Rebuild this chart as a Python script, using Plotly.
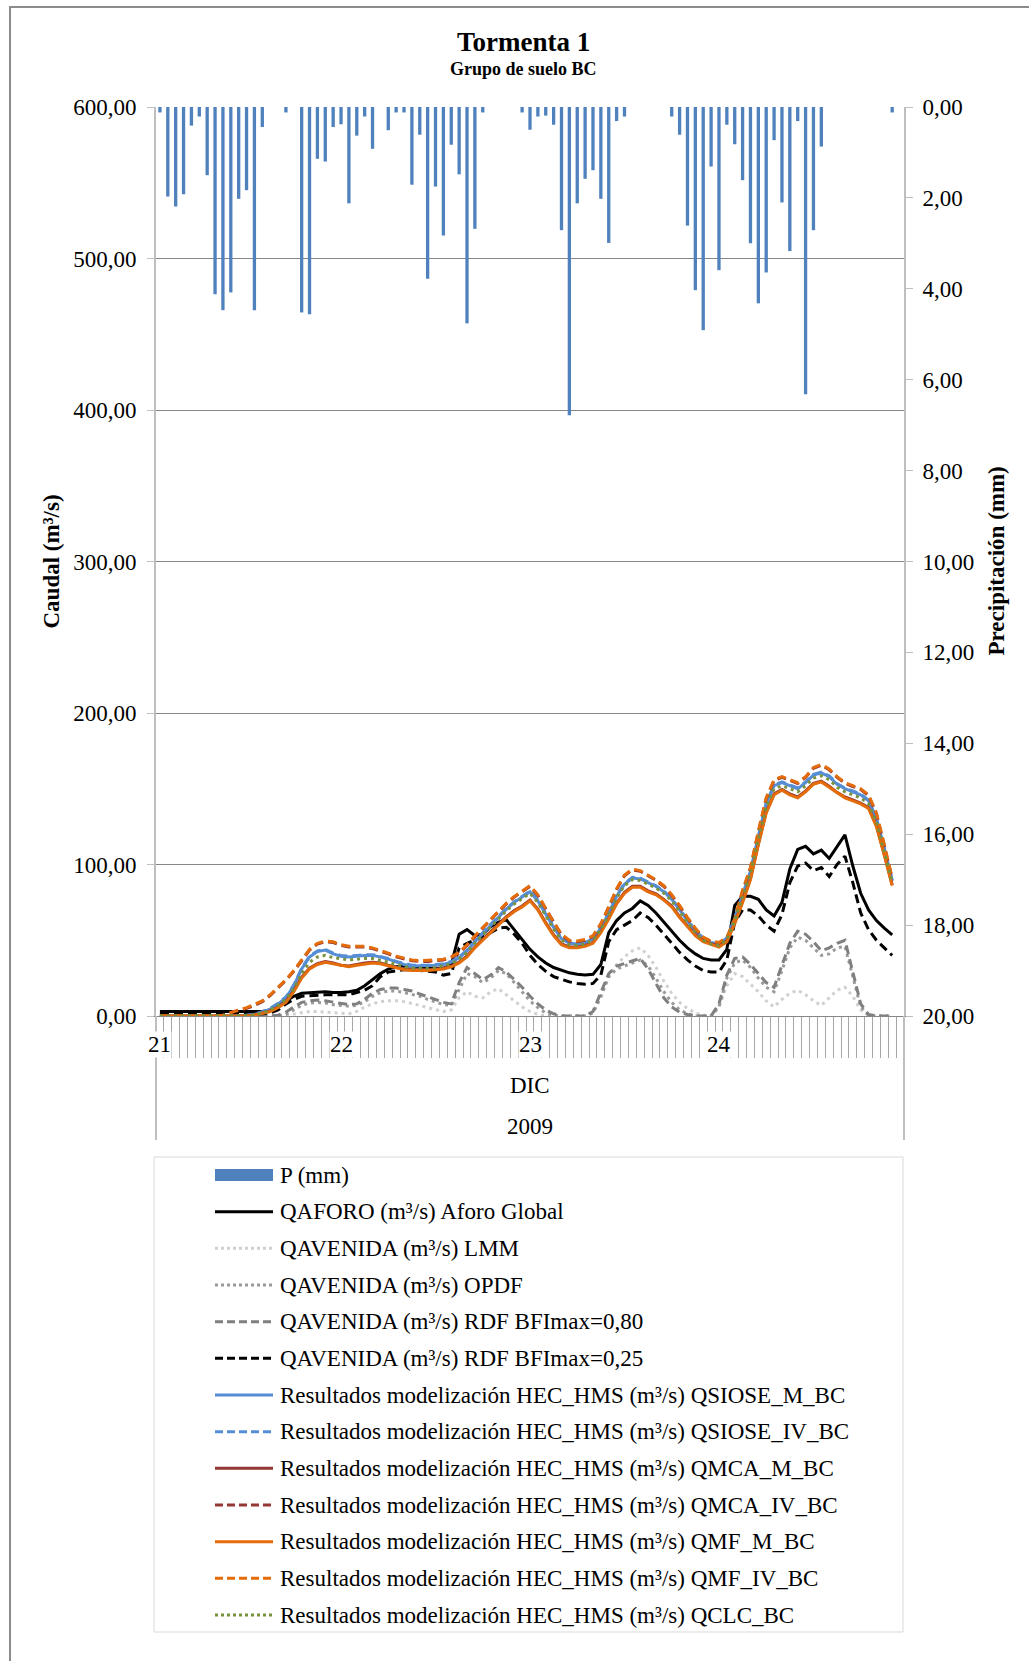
import plotly.graph_objects as go

# ---------------------------------------------------------------------------
# datos (horario: 21-dic 01:00 ... 24-dic 23:00)
# ---------------------------------------------------------------------------
cat_day = [21] * 23 + [22] * 24 + [23] * 24 + [24] * 24
month_label = "DIC"
year_label = "2009"

p_mm = [0.12, 1.97, 2.19, 1.92, 0.41, 0.21, 1.50, 4.12, 4.47, 4.08,
        2.02, 1.83, 4.47, 0.44, 0, 0, 0.12, 0, 4.52, 4.56,
        1.14, 1.20, 0.44, 0.38, 2.12, 0.63, 0.21, 0.92, 0, 0.51,
        0.12, 0.12, 1.71, 0.61, 3.78, 1.75, 2.83, 0.83, 1.48, 4.76,
        2.68, 0.12, 0, 0, 0, 0, 0.12, 0.50, 0.21, 0.19,
        0.39, 2.71, 6.78, 2.12, 1.58, 1.39, 2.02, 2.99, 0.31, 0.21,
        0, 0, 0, 0, 0, 0.21, 0.61, 2.61, 4.03, 4.91,
        1.31, 3.59, 0.39, 0.82, 1.61, 3.00, 4.32, 3.64, 0.73, 2.10,
        3.17, 0.31, 6.32, 2.71, 0.87, 0, 0, 0, 0, 0,
        0, 0, 0, 0.12, 0]

q_aforo = [3, 3, 3, 3, 3, 3, 3, 3, 3, 3,
           3, 3, 3, 3, 4, 6, 10, 13, 15, 15.5,
           16, 16, 15.5, 15.5, 16, 17, 20, 24, 28, 31,
           32.5, 33, 33, 32.5, 32, 31.5, 31.5, 34, 54, 57,
           53, 54, 59, 62, 63.5, 57, 50, 44, 39, 35,
           32, 30, 28.5, 27.5, 27, 27.5, 34, 55, 63, 68,
           71, 76, 73, 68, 62, 56, 50, 45, 41, 38,
           37, 37, 44, 73, 79, 79, 77, 70, 66, 75,
           97, 110, 112, 107, 109.5, 104, 112, 119.5, 99, 81,
           70, 63, 58, 53.5]

q_lmm = [0, 0, 0, 0, 0, 0, 0, 0, 0, 0,
         0, 0, 0, 0, 0, 0, 0.5, 1.5, 2.5, 3,
         3, 2.5, 2, 1.5, 1.5, 3, 6, 8, 9.5, 10,
         10, 9.5, 8.5, 7, 5.5, 4, 3, 4, 12, 16,
         13, 12, 16, 18, 14, 10, 6, 3, 1, 0,
         0, 0, 0, 0, 0, 2, 12, 26, 34, 39,
         43, 45, 40, 32, 23, 15, 9, 5, 2, 0.5,
         0, 6, 20, 28, 26, 21, 16, 10, 6, 11,
         15, 17, 14, 10, 7, 12, 17, 19, 13, 4,
         0.5, 0, 0, 0]

q_opdf = [0, 0, 0, 0, 0, 0, 0, 0, 0, 0,
          0, 0, 0, 0, 0, 0, 1, 4, 7, 8.5,
          9, 8.5, 7.5, 7, 6.5, 7, 9.5, 13, 15.5, 16.5,
          16.5, 15.5, 14.5, 13, 11, 9, 7.5, 7, 18, 28,
          26, 22, 25, 30, 28, 22, 16, 10, 5.5, 2,
          0.5, 0, 0, 0, 0, 2, 13, 26, 31, 33,
          35, 37, 33, 25, 16, 9, 4, 1.5, 0, 0,
          0, 6, 25, 35, 37, 32, 25, 19, 16, 30,
          45, 52, 50, 45, 40, 41, 45, 46, 26, 6,
          0.5, 0, 0, 0]

q_rdf80 = [0, 0, 0, 0, 0, 0, 0, 0, 0, 0,
           0, 0, 0, 0, 0, 0.5, 2.5, 6, 9, 10,
           10.5, 10, 9, 8.5, 7.5, 8, 11, 15, 17.5, 18.5,
           18.5, 17.5, 16.5, 14.5, 12.5, 10.5, 9, 8, 22, 32,
           28, 24, 27, 32, 29, 24, 19, 13, 8, 4,
           1.5, 0, 0, 0, 0, 3, 16, 28, 33, 34.5,
           36, 38, 31, 21, 12, 6, 2.5, 1, 0, 0,
           0, 8, 27, 38, 39, 34, 28, 22, 19, 33,
           48, 56, 54, 49, 43, 45, 48, 50, 28, 8,
           1, 0, 0, 0]

q_rdf25 = [1.5, 1.5, 1.5, 1.5, 1.5, 1.5, 1.5, 1.5, 1.5, 1.5,
           1.5, 1.5, 1.5, 1.5, 2, 4, 8, 11, 13, 13.5,
           14, 14, 14, 14, 14, 15.5, 17, 20, 26, 29,
           30, 30.5, 30.5, 30, 29.5, 29, 27, 28, 45, 48,
           50, 52, 55, 58, 58.5, 54, 48, 40, 34, 29.5,
           26, 24, 22.5, 21.5, 21, 21.5, 27, 49, 57, 60,
           63, 68, 65, 60, 54, 48, 42, 37, 33, 30,
           29, 29, 37, 62, 70, 70, 66, 60, 56, 67,
           88, 99, 101, 96, 98, 92, 100, 105.5, 88, 68,
           57, 50, 45, 40]

q_siose_m = [0, 0, 0, 0, 0, 0, 0, 0, 0, 0,
             0, 0.5, 1, 2.5, 4.5, 8, 12, 20, 31, 39,
             42.5, 43.5, 41, 39.5, 39, 39.5, 40, 40, 39, 37.5,
             35.5, 34, 33, 33, 33, 33.5, 34, 35.5, 38.5, 43,
             49, 54.5, 60, 65.5, 70.5, 75, 78.5, 82, 76, 67,
             58.5, 51, 48, 47.5, 48.5, 51, 58, 68, 79, 87,
             91, 90.5, 88, 85.5, 82, 77, 70, 63, 56, 51,
             48, 47, 51, 64, 79, 95, 118, 140, 152, 154,
             152, 150, 154, 159, 160.5, 158, 153, 150, 148, 146,
             142, 130, 110, 89]

q_siose_iv = [0, 0, 0, 0, 0, 0, 0, 0, 0, 0,
              0, 0.5, 1.2, 2.8, 5, 8.5, 12.5, 20.5, 31.5, 39.5,
              43, 44, 41.5, 40, 39.5, 40, 40.5, 40.5, 39.5, 38,
              36, 34.5, 33.5, 33.5, 33.5, 34, 34.5, 36, 39, 43.5,
              49.5, 55, 60.5, 66, 71, 75.5, 79, 82.5, 76.5, 67.5,
              59, 51.5, 48.5, 48, 49, 51.5, 58.5, 68.5, 79.5, 87.5,
              91.5, 91, 88.5, 86, 82.5, 77.5, 70.5, 63.5, 56.5, 51.5,
              48.5, 47.5, 51.5, 64.5, 79.5, 95.5, 118.5, 140.5, 152.5, 154.5,
              152.5, 150.5, 154.5, 159.5, 161, 158.5, 153.5, 150.5, 148.5, 146.5,
              142.5, 130.5, 110.5, 89.5]

q_mca_m = [0, 0, 0, 0, 0, 0, 0, 0, 0, 0,
           0, 0, 0.6, 1.7, 3.3, 6, 9.6, 16.7, 25.7, 31.6,
           34.6, 36, 35, 33.5, 33, 34, 35, 35.5, 35, 33.5,
           32, 31, 30.5, 30.5, 30.5, 31, 31.5, 33, 35.5, 39.6,
           45.6, 50.6, 55.6, 60.6, 65.6, 69.6, 72.6, 76.6, 70.6, 61.6,
           53.6, 47.6, 45.6, 45.6, 46.6, 48.6, 55.6, 64.6, 74.6, 81.6,
           85.6, 85.6, 82.6, 80.6, 77, 72.6, 65.6, 59.6, 53.6, 49.6,
           47.6, 46, 49.6, 61.6, 75.6, 90.6, 113.6, 134.6, 146.6, 149.6,
           146.6, 144.6, 148.6, 153.6, 155, 151.6, 147.6, 144.6, 142.6, 140.6,
           137.6, 125.6, 106.6, 86.6]

q_mca_iv = [0, 0, 0, 0, 0, 0, 0, 0, 0.4, 2.2,
            3.6, 5, 7, 9.5, 13.5, 18.5, 23.5, 29.5, 36.5, 43.5,
            47.5, 49, 48.5, 46.5, 45.5, 45.5, 45.5, 44.5, 43, 41,
            39, 37.5, 36.5, 36, 36, 36.5, 37, 38.5, 41.5, 46.5,
            52.5, 58, 63.5, 69, 74, 78.5, 82, 85.5, 79.5, 70.5,
            61.5, 53.5, 49.5, 49, 50, 52.5, 60.5, 71.5, 83.5, 92.5,
            96.5, 95.5, 92.5, 89.5, 85.5, 79.5, 72.5, 64.5, 57.5, 51.5,
            49, 48, 51.5, 63.5, 82.5, 97.5, 121.5, 143.5, 155.5, 157.5,
            155.5, 153.5, 157.5, 163.5, 165.5, 162.5, 157.5, 153.5, 151.5, 149.5,
            145.5, 133.5, 112.5, 90.5]

q_mf_m = [0, 0, 0, 0, 0, 0, 0, 0, 0, 0,
          0, 0, 0.5, 1.5, 3, 5.5, 9, 16, 25, 31,
          34, 35.5, 34.5, 33, 32.5, 33.5, 34.5, 35, 34.5, 33,
          31.5, 30.5, 30, 30, 30, 30.5, 31, 32.5, 35, 39,
          45, 50, 55, 60, 65, 69, 72, 76, 70, 61,
          53, 47, 45, 45, 46, 48, 55, 64, 74, 81,
          85, 85, 82, 80, 76.5, 72, 65, 59, 53, 49,
          47, 45.5, 49, 61, 75, 90, 113, 134, 146, 149,
          146, 144, 148, 153, 154.5, 151, 147, 144, 142, 140,
          137, 125, 106, 86]

q_mf_iv = [0, 0, 0, 0, 0, 0, 0, 0, 0.5, 2.5,
           4, 5.5, 7.5, 10, 14, 19, 24, 30, 37, 44,
           48, 49.5, 49, 47, 46, 46, 46, 45, 43.5, 41.5,
           39.5, 38, 37, 36.5, 36.5, 37, 37.5, 39, 42, 47,
           53, 58.5, 64, 69.5, 74.5, 79, 82.5, 86, 80, 71,
           62, 54, 50, 49.5, 50.5, 53, 61, 72, 84, 93,
           97, 96, 93, 90, 86, 80, 73, 65, 58, 52,
           49.5, 48.5, 52, 64, 83, 98, 122, 144, 156, 158,
           156, 154, 158, 164, 166, 163, 158, 154, 152, 150,
           146, 134, 113, 91]

q_clc = [0, 0, 0, 0, 0, 0, 0, 0, 0, 0,
         0, 0.3, 0.8, 2, 4, 7, 11, 18, 28, 35.5,
         39, 40, 38.5, 37.5, 37, 37.5, 38, 38, 37, 35.5,
         34, 32.5, 31.5, 31.5, 31.5, 32, 33, 34.5, 37.5, 42,
         48, 53.5, 59, 64.5, 69.5, 74, 77.5, 81, 75, 66,
         57.5, 50, 47, 46.5, 47.5, 50, 57, 67, 78, 86,
         90, 89.5, 87, 84.5, 81, 76, 69, 62, 55, 50,
         47.5, 46.5, 50.5, 63, 78, 94, 116.5, 138, 150, 152,
         150, 148, 152, 157, 158.5, 156, 151, 148, 146, 144,
         140, 128, 108, 88]

HMS = "Resultados modelización HEC_HMS (m³/s) "
DASH = "9px,5px"
DOT = "3px,4px"

# nombre, valores, color, tipo de línea
series = [
    ("QAFORO (m³/s) Aforo Global", q_aforo, "#000000", "solid"),
    ("QAVENIDA (m³/s) LMM", q_lmm, "#D0D0D0", DOT),
    ("QAVENIDA (m³/s) OPDF", q_opdf, "#9A9A9A", DOT),
    ("QAVENIDA (m³/s) RDF BFImax=0,80", q_rdf80, "#7F7F7F", DASH),
    ("QAVENIDA (m³/s) RDF BFImax=0,25", q_rdf25, "#000000", DASH),
    (HMS + "QSIOSE_M_BC", q_siose_m, "#558ED5", "solid"),
    (HMS + "QSIOSE_IV_BC", q_siose_iv, "#558ED5", DASH),
    (HMS + "QMCA_M_BC", q_mca_m, "#953735", "solid"),
    (HMS + "QMCA_IV_BC", q_mca_iv, "#953735", DASH),
    (HMS + "QMF_M_BC", q_mf_m, "#E46C0A", "solid"),
    (HMS + "QMF_IV_BC", q_mf_iv, "#E46C0A", DASH),
    (HMS + "QCLC_BC", q_clc, "#77933C", DOT),
]

# ---------------------------------------------------------------------------
# geometría
# ---------------------------------------------------------------------------
W, H = 1029, 1661
ML, MR, MT, MB = 156, 125, 107, 645
PW, PH = W - ML - MR, H - MT - MB
FONT = "Liberation Serif"
GRID = "#868686"
AXIS = "#BFBFBF"


def px_x(x):
    return (x - ML) / PW


def px_y(y):
    return (H - MB - y) / PH


n_cat = len(cat_day)

fig = go.Figure()

fig.add_trace(go.Bar(
    x=list(range(len(p_mm))), y=p_mm, yaxis="y2", name="P (mm)",
    marker=dict(color="#4F81BD", line=dict(width=0)), width=0.42,
))

for name, vals, color, dash in series:
    fig.add_trace(go.Scatter(
        x=list(range(len(vals))), y=vals, mode="lines", name=name,
        line=dict(color=color, width=3, dash=dash),
    ))

annotations = []
shapes = []

# títulos
annotations.append(dict(text="<b>Tormenta 1</b>", x=px_x(523), y=px_y(42),
                        xref="paper", yref="paper", showarrow=False,
                        font=dict(size=27), xanchor="center", yanchor="middle"))
annotations.append(dict(text="<b>Grupo de suelo BC</b>", x=px_x(523), y=px_y(69),
                        xref="paper", yref="paper", showarrow=False,
                        font=dict(size=18), xanchor="center", yanchor="middle"))
annotations.append(dict(text="<b>Caudal (m³/s)</b>", x=px_x(51), y=0.5,
                        xref="paper", yref="paper", showarrow=False, textangle=-90,
                        font=dict(size=23), xanchor="center", yanchor="middle"))
annotations.append(dict(text="<b>Precipitación (mm)</b>", x=px_x(996), y=0.5,
                        xref="paper", yref="paper", showarrow=False, textangle=-90,
                        font=dict(size=23), xanchor="center", yanchor="middle"))

# etiquetas del eje de categorías (día / mes / año)
first_idx = {}
for i, d in enumerate(cat_day):
    first_idx.setdefault(d, i)
for d, i in first_idx.items():
    annotations.append(dict(text=str(d), x=i, y=px_y(1044), xref="x", yref="paper",
                            showarrow=False, bgcolor="white", borderpad=0,
                            font=dict(size=23), xanchor="center", yanchor="middle"))
annotations.append(dict(text=month_label, x=0.5, y=px_y(1085), xref="paper", yref="paper",
                        showarrow=False, font=dict(size=23), yanchor="middle"))
annotations.append(dict(text=year_label, x=0.5, y=px_y(1126), xref="paper", yref="paper",
                        showarrow=False, font=dict(size=23), yanchor="middle"))

# líneas de agrupación bajo el eje
for xx in (0, 1):
    shapes.append(dict(type="line", xref="paper", yref="paper", x0=xx, x1=xx,
                       y0=0, y1=px_y(1140), line=dict(color=AXIS, width=2)))

# marco exterior
shapes.append(dict(type="rect", xref="paper", yref="paper",
                   x0=px_x(10), x1=px_x(1045), y0=px_y(7), y1=px_y(1680),
                   line=dict(color="#8C8C8C", width=2)))

# leyenda manual
shapes.append(dict(type="rect", xref="paper", yref="paper",
                   x0=px_x(154), x1=px_x(903), y0=px_y(1157), y1=px_y(1632),
                   line=dict(color="#D9D9D9", width=1)))

row0, row_h = 1175, 36.67
sym_x0, sym_x1, txt_x = 215, 273, 278
entries = [("P (mm)", "#4F81BD", "bar")] + [(s[0], s[2], s[3]) for s in series]
for k, (name, color, dash) in enumerate(entries):
    yc = row0 + k * row_h
    if dash == "bar":
        shapes.append(dict(type="rect", xref="paper", yref="paper",
                           x0=px_x(sym_x0), x1=px_x(sym_x1),
                           y0=px_y(yc - 6), y1=px_y(yc + 6),
                           fillcolor=color, line=dict(width=0)))
    else:
        ldash = {DASH: "8px,4px", DOT: "3px,3px"}.get(dash, dash)
        shapes.append(dict(type="line", xref="paper", yref="paper",
                           x0=px_x(sym_x0), x1=px_x(sym_x1),
                           y0=px_y(yc), y1=px_y(yc),
                           line=dict(color=color, width=3, dash=ldash)))
    annotations.append(dict(text=name, x=px_x(txt_x), y=px_y(yc), xref="paper", yref="paper",
                            showarrow=False, font=dict(size=23),
                            xanchor="left", yanchor="middle"))

fig.update_layout(
    width=W, height=H, autosize=False,
    margin=dict(l=ML, r=MR, t=MT, b=MB),
    paper_bgcolor="white", plot_bgcolor="white",
    font=dict(family=FONT, size=23, color="black"),
    separators=", ",
    showlegend=False,
    xaxis=dict(
        range=[-0.5, n_cat - 0.5], tickmode="array",
        tickvals=[i - 0.5 for i in range(n_cat + 1)], showticklabels=False,
        ticks="outside", ticklen=41, tickcolor="#A6A6A6", tickwidth=1,
        showgrid=False, zeroline=False, showline=True, linecolor=GRID, linewidth=1,
    ),
    yaxis=dict(
        range=[0, 600], dtick=100, tickformat=".2f",
        showgrid=True, gridcolor=GRID, gridwidth=1, zeroline=False,
        showline=True, linecolor=AXIS, linewidth=2,
        ticks="outside", ticklen=7, tickcolor=AXIS, ticklabelstandoff=6,
    ),
    yaxis2=dict(
        overlaying="y", side="right", range=[20, 0], dtick=2, tickformat=".2f",
        showgrid=False, zeroline=False, showline=True, linecolor=AXIS, linewidth=2,
        ticks="outside", ticklen=7, tickcolor=AXIS, ticklabelstandoff=5,
    ),
    annotations=annotations,
    shapes=shapes,
)

fig.write_html("out.html", config={"displayModeBar": False},
               post_script="document.body.style.margin='0';")
